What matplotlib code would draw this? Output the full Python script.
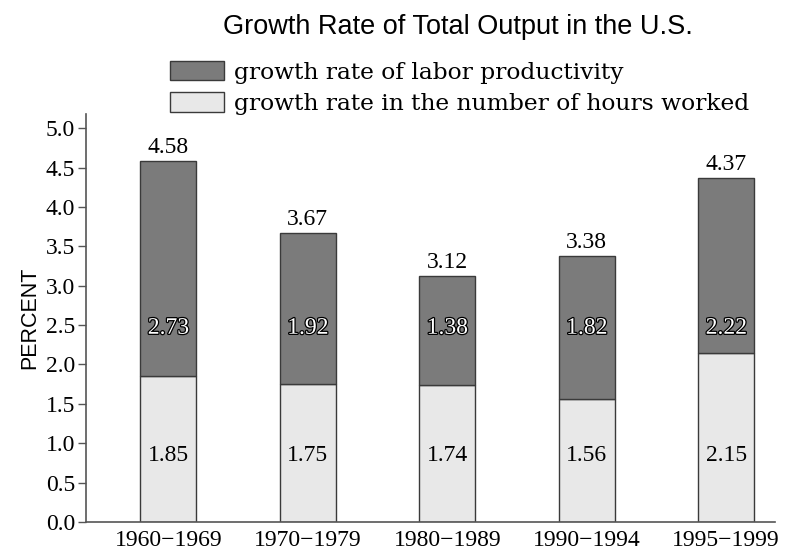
import matplotlib
matplotlib.use("Agg")
import matplotlib.pyplot as plt
import matplotlib.patheffects as pe
from matplotlib.patches import Patch
import numpy as np

categories = ["1960−1969", "1970−1979", "1980−1989", "1990−1994", "1995−1999"]
hours = [1.85, 1.75, 1.74, 1.56, 2.15]
productivity = [2.73, 1.92, 1.38, 1.82, 2.22]
totals = [4.58, 3.67, 3.12, 3.38, 4.37]
yticks = [0.0, 0.5, 1.0, 1.5, 2.0, 2.5, 3.0, 3.5, 4.0, 4.5, 5.0]

serif = "Liberation Serif"
sans = "Liberation Sans"

dark = "#7b7b7b"
light = "#e8e8e8"
edge = "#3a3a3a"

fig = plt.figure(figsize=(7.92, 5.56), dpi=100)
ax = fig.add_axes([86/792, 34/556, (775-86)/792, (522-114)/556])

x = np.arange(len(categories))
w = 0.4
ax.bar(x, hours, width=w, color=light, edgecolor=edge, linewidth=1.0)
ax.bar(x, productivity, bottom=hours, width=w, color=dark, edgecolor=edge, linewidth=1.0)

for i in range(len(categories)):
    top = hours[i] + productivity[i]
    ax.text(x[i], top + 0.04, f"{totals[i]:.2f}", ha="center", va="bottom",
            fontsize=17, family=serif)
    t = ax.text(x[i], 2.46, f"{productivity[i]:.2f}", ha="center", va="center",
                fontsize=17, family=serif, color="white")
    t.set_path_effects([pe.Stroke(linewidth=1.8, foreground="black"), pe.Normal()])
    ax.text(x[i], 0.85, f"{hours[i]:.2f}", ha="center", va="center",
            fontsize=17, family=serif)

ax.set_xlim(-0.59, 4.35)
ax.set_ylim(0, 5.18)
ax.set_yticks(yticks)
ax.set_yticklabels([f"{v:.1f}" for v in yticks], family=serif, fontsize=17)
ax.set_xticks(x)
ax.set_xticklabels(categories, family=serif, fontsize=17)
ax.tick_params(axis="x", length=0, pad=6)
ax.tick_params(axis="y", length=6, width=1, color="#555555", pad=2, direction="out")
for s in ["top", "right"]:
    ax.spines[s].set_visible(False)
for s in ["left", "bottom"]:
    ax.spines[s].set_color("#555555")
    ax.spines[s].set_linewidth(1.2)

ax.set_ylabel("PERCENT", family=sans, fontsize=15.5, labelpad=4)

fig.text(0.578, 0.952, "Growth Rate of Total Output in the U.S.", ha="center", va="center",
         family=sans, fontsize=19.5)

handles = [Patch(facecolor=dark, edgecolor=edge, linewidth=1.0),
           Patch(facecolor=light, edgecolor=edge, linewidth=1.0)]
labels = ["growth rate of labor productivity", "growth rate in the number of hours worked"]
fig.legend(handles, labels, loc="upper left", bbox_to_anchor=(170/792, 1 - 61/556),
           frameon=False, prop={"family": "DejaVu Serif", "size": 16.8},
           handlelength=2.3, handleheight=0.9, handletextpad=0.45,
           labelspacing=0.36, borderpad=0, borderaxespad=0)

fig.savefig("out.png", dpi=100)
